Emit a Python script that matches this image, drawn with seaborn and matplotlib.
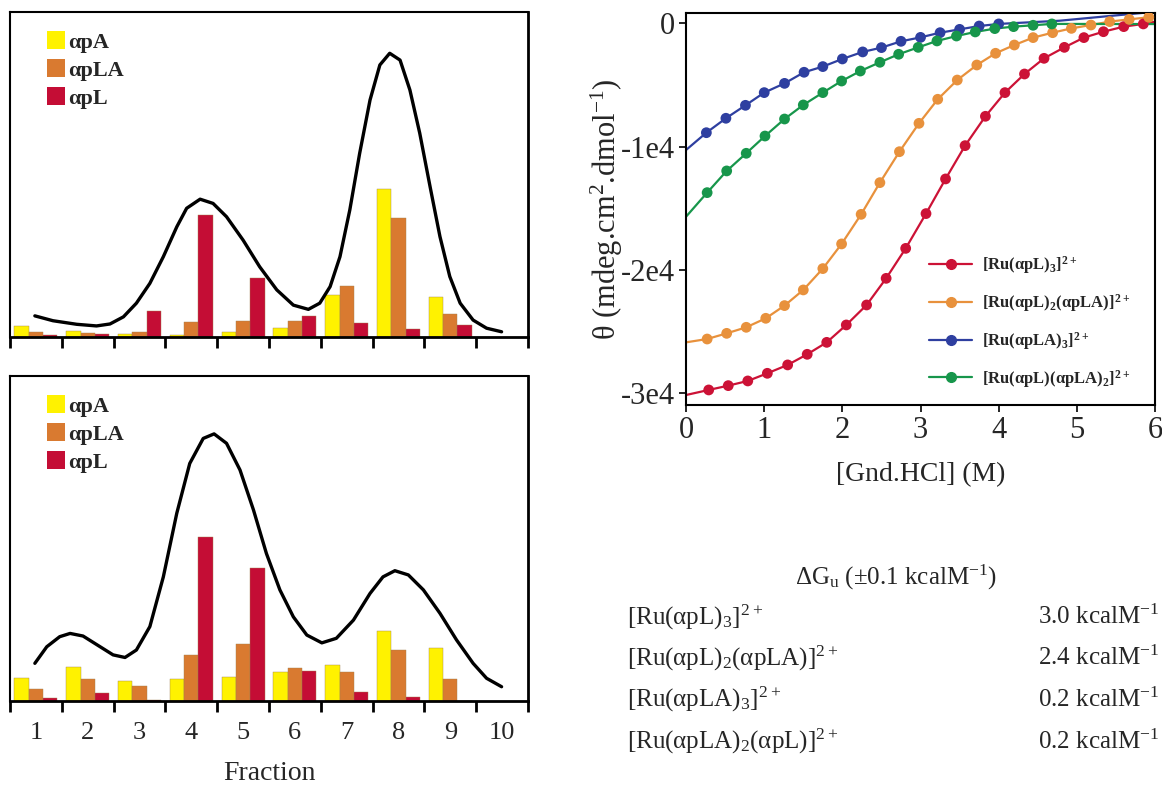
import numpy as np
import pandas as pd
import matplotlib
matplotlib.use("Agg")
import matplotlib.pyplot as plt
from matplotlib.patches import Patch
from matplotlib.lines import Line2D
import seaborn as sns

# ---- elution fractions (bar heights, % of panel height) ----
fractions = [1, 2, 3, 4, 5, 6, 7, 8, 9]
fraction_order = [1, 2, 3, 4, 5, 6, 7, 8, 9, 10]
species = ["αpA", "αpLA", "αpL"]

top_apa = [3.3, 1.8, 0.9, 0.6, 1.6, 2.8, 12.9, 45.5, 12.3]
top_apla = [1.5, 1.3, 1.6, 4.5, 4.8, 4.8, 15.8, 36.7, 7.2]
top_apl = [0.5, 1.0, 8.0, 37.6, 18.3, 6.4, 4.4, 2.6, 3.7]

bot_apa = [7.0, 10.6, 6.3, 6.7, 7.4, 8.9, 11.0, 21.6, 16.4]
bot_apla = [3.6, 6.7, 4.6, 14.2, 17.7, 10.3, 9.0, 15.8, 6.7]
bot_apl = [0.8, 2.4, 0.2, 50.4, 40.8, 9.3, 2.7, 1.1, 0.0]

# elution profile traces (position in fraction slots, signal)
top_curve_x = [-0.02, 0.33, 0.79, 1.17, 1.43, 1.69, 1.94, 2.20, 2.46, 2.72, 2.91, 3.17, 3.42,
               3.68, 4.00, 4.32, 4.65, 4.97, 5.26, 5.48, 5.68, 5.87, 6.06, 6.25, 6.45, 6.64,
               6.83, 7.03, 7.22, 7.41, 7.61, 7.80, 7.99, 8.19, 8.44, 8.70, 8.99]
top_curve_y = [6.5, 5.0, 3.9, 3.4, 4.0, 6.2, 10.4, 16.5, 24.7, 33.9, 39.6, 42.4, 41.1,
               37.0, 29.8, 21.6, 14.5, 9.8, 8.5, 10.4, 15.5, 24.7, 39.1, 56.5, 72.9, 83.7,
               87.3, 85.2, 76.0, 62.7, 46.2, 30.9, 18.6, 10.4, 5.2, 2.7, 1.6]

bot_curve_x = [-0.02, 0.21, 0.46, 0.66, 0.91, 1.24, 1.49, 1.72, 1.94, 2.20, 2.46, 2.72, 2.97,
               3.23, 3.44, 3.68, 3.94, 4.20, 4.45, 4.71, 4.97, 5.23, 5.52, 5.80, 6.13, 6.45,
               6.70, 6.93, 7.19, 7.48, 7.80, 8.12, 8.44, 8.70, 8.99]
bot_curve_y = [11.6, 16.7, 19.8, 20.8, 20.0, 16.7, 14.2, 13.4, 15.7, 22.9, 38.2, 57.8, 73.1,
               80.8, 82.2, 79.3, 71.1, 58.8, 45.4, 34.2, 25.9, 20.3, 17.9, 19.3, 24.9, 33.1,
               38.2, 40.1, 38.8, 34.2, 27.0, 18.8, 11.6, 7.0, 4.4]

# ---- GdnHCl denaturation ----
red_gnd = [0.29, 0.54, 0.79, 1.04, 1.30, 1.55, 1.80, 2.05, 2.31, 2.56, 2.81, 3.07, 3.32,
           3.57, 3.83, 4.08, 4.33, 4.58, 4.84, 5.09, 5.34, 5.60, 5.85]
red_theta = [-29730, -29380, -29000, -28380, -27700, -26840, -25870, -24460, -22840, -20680,
             -18250, -15430, -12620, -9920, -7540, -5620, -4110, -2840, -1950, -1160, -680,
             -270, -50]
red_ends = [-30140, 130]

orange_gnd = [0.27, 0.52, 0.77, 1.02, 1.26, 1.50, 1.75, 1.99, 2.24, 2.48, 2.73, 2.98, 3.22,
              3.47, 3.72, 3.96, 4.20, 4.44, 4.69, 4.93, 5.18, 5.42, 5.67, 5.92]
orange_theta = [-25600, -25140, -24650, -23920, -22890, -21620, -19890, -17890, -15490,
                -12920, -10410, -8110, -6160, -4600, -3380, -2430, -1760, -1160, -760, -410,
                -140, 140, 320, 490]
orange_ends = [-25870, 550]

blue_gnd = [0.26, 0.51, 0.76, 1.00, 1.26, 1.51, 1.75, 2.00, 2.26, 2.50, 2.75, 3.00, 3.25,
            3.50, 3.75, 4.00]
blue_theta = [-8870, -7700, -6650, -5620, -4870, -3970, -3510, -2890, -2320, -1970, -1460,
              -1140, -760, -490, -220, -50]
blue_tail_gnd = [4.78, 6.0]
blue_tail_theta = [210, 940]
blue_start = -10270

green_gnd = [0.27, 0.52, 0.77, 1.01, 1.26, 1.50, 1.75, 1.99, 2.23, 2.48, 2.72, 2.97, 3.21,
             3.46, 3.70, 3.95, 4.19, 4.44, 4.68]
green_theta = [-13730, -11970, -10540, -9140, -7760, -6620, -5620, -4680, -3870, -3160,
               -2510, -1950, -1430, -1030, -700, -430, -270, -160, -50]
green_ends = [-15680, -60]

complexes = ["[Ru(αpL)$_{\\mathbf{3}}$]$^{\\mathbf{2+}}$",
             "[Ru(αpL)$_{\\mathbf{2}}$(αpLA)]$^{\\mathbf{2+}}$",
             "[Ru(αpLA)$_{\\mathbf{3}}$]$^{\\mathbf{2+}}$",
             "[Ru(αpL)(αpLA)$_{\\mathbf{2}}$]$^{\\mathbf{2+}}$"]
table_rows = ["[Ru(αpL)$_3$]$^{2+}$", "[Ru(αpL)$_2$(αpLA)]$^{2+}$",
              "[Ru(αpLA)$_3$]$^{2+}$", "[Ru(αpLA)$_2$(αpL)]$^{2+}$"]
dG_values = [3.0, 2.4, 0.2, 0.2]

y_ticks = [-30000, -20000, -10000, 0]
y_ticklabels = ["-3e4", "-2e4", "-1e4", "0"]

bar_colors = ["#fff200", "#d97a30", "#c40d35"]
line_colors = ["#cc1236", "#e8913c", "#2e3fa0", "#17964b"]

sns.set_theme(style="white")
plt.rcParams["font.family"] = ["Liberation Serif", "DejaVu Serif"]
plt.rcParams["mathtext.fontset"] = "custom"
plt.rcParams["mathtext.rm"] = "Liberation Serif"
plt.rcParams["mathtext.bf"] = "Liberation Serif:bold"
plt.rcParams["mathtext.default"] = "regular"
plt.rcParams["axes.unicode_minus"] = False

fig = plt.figure(figsize=(11.62, 7.89), dpi=100)
ax_top = fig.add_axes([0.0086, 0.5729, 0.4458, 0.4119])
ax_bot = fig.add_axes([0.0086, 0.1115, 0.4458, 0.4119])
ax_r = fig.add_axes([0.5904, 0.4867, 0.4036, 0.4972])


def bar_panel(ax, apa, apla, apl, cx, cy, show_labels):
    df = pd.DataFrame({
        "fraction": fractions * 3,
        "species": [species[0]] * 9 + [species[1]] * 9 + [species[2]] * 9,
        "value": apa + apla + apl,
    })
    sns.barplot(data=df, x="fraction", y="value", hue="species", order=fraction_order,
                hue_order=species, palette=bar_colors, saturation=1, width=0.83, ax=ax,
                edgecolor="#a08050", linewidth=0.3, legend=False)
    sns.lineplot(x=cx, y=cy, color="black", linewidth=2.4, ax=ax, sort=False)
    ax.set_xlim(-0.5, 9.5)
    ax.set_ylim(0, 100)
    ax.set_yticks([])
    ax.set_xticks(np.arange(-0.5, 10, 1.0))
    ax.set_xticklabels([])
    ax.tick_params(axis="x", which="major", bottom=True, length=8, width=2, color="black",
                   direction="out")
    if show_labels:
        ax.set_xticks(range(10), minor=True)
        ax.set_xticklabels([str(f) for f in fraction_order], minor=True, fontsize=19)
        ax.tick_params(axis="x", which="minor", length=0, pad=15)
        ax.set_xlabel("Fraction", fontsize=20, labelpad=12)
    else:
        ax.set_xlabel("")
    ax.set_ylabel("")
    for side, sp in ax.spines.items():
        sp.set_visible(True)
        sp.set_color("black")
        sp.set_linewidth(2.0 if side in ("bottom", "right") else 1.5)
    handles = [Patch(facecolor=c, edgecolor="none") for c in bar_colors]
    ax.legend(handles, species, loc="upper left", bbox_to_anchor=(0.05, 0.975),
              frameon=False, borderpad=0, handlelength=0.82, handleheight=0.82,
              handletextpad=0.15, labelspacing=0.3,
              prop={"family": "Liberation Serif", "weight": "bold", "size": 16})


bar_panel(ax_top, top_apa, top_apla, top_apl, top_curve_x, top_curve_y, False)
bar_panel(ax_bot, bot_apa, bot_apla, bot_apl, bot_curve_x, bot_curve_y, True)

# right panel: fitted lines plus measured points
series = [
    ([0.0] + red_gnd + [6.0], [red_ends[0]] + red_theta + [red_ends[1]], red_gnd, red_theta),
    ([0.0] + orange_gnd + [6.0], [orange_ends[0]] + orange_theta + [orange_ends[1]],
     orange_gnd, orange_theta),
    ([0.0] + blue_gnd + blue_tail_gnd, [blue_start] + blue_theta + blue_tail_theta,
     blue_gnd, blue_theta),
    ([0.0] + green_gnd + [6.0], [green_ends[0]] + green_theta + [green_ends[1]],
     green_gnd, green_theta),
]
for (lx, ly, px, py), col in zip(series, line_colors):
    sns.lineplot(x=lx, y=ly, color=col, linewidth=1.6, sort=False, ax=ax_r)
    sns.scatterplot(x=px, y=py, color=col, s=60, edgecolor="none", ax=ax_r, zorder=3)

ax_r.set_xlim(0, 6)
ax_r.set_ylim(-30950, 860)
ax_r.set_yticks(y_ticks)
ax_r.set_yticklabels(y_ticklabels, fontsize=22)
ax_r.set_xticks(range(7))
ax_r.set_xticklabels([str(i) for i in range(7)], fontsize=22)
ax_r.tick_params(axis="both", direction="out", length=5, width=1.2, color="black",
                 left=True, bottom=True, pad=3)
for sp in ax_r.spines.values():
    sp.set_visible(True)
    sp.set_color("black")
    sp.set_linewidth(1.5)
ax_r.set_xlabel("[Gnd.HCl] (M)", fontsize=20, labelpad=12)
ax_r.set_ylabel("θ (mdeg.cm$^2$.dmol$^{-1}$)", fontsize=22, labelpad=-3)

handles = [Line2D([0], [0], color=c, linewidth=1.6, marker="o", markersize=7)
           for c in line_colors]
ax_r.legend(handles, complexes, loc="upper left", bbox_to_anchor=(0.5, 0.405),
            frameon=False, borderpad=0, handlelength=2.6, handletextpad=0.6,
            labelspacing=0.95,
            prop={"family": "Liberation Serif", "weight": "bold", "size": 12})

# free-energy table
fig.text(0.771, 0.268, "ΔG$_u$ (±0.1 kcalM$^{-1}$)", ha="center", va="center", fontsize=18)
row_y = [0.218, 0.166, 0.113, 0.060]
for name, dg, yy in zip(table_rows, dG_values, row_y):
    fig.text(0.540, yy, name, ha="left", va="center", fontsize=18)
    fig.text(0.998, yy, f"{dg:.1f} kcalM$^{{-1}}$", ha="right", va="center", fontsize=18)

fig.savefig("out.png", dpi=100)
